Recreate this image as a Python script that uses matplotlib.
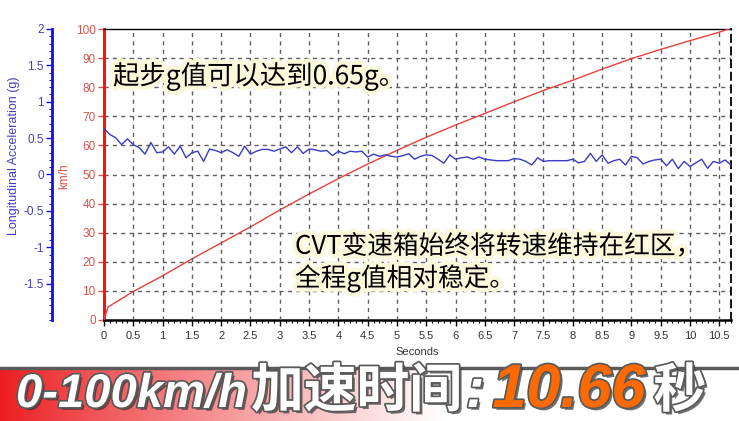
import numpy as np
import matplotlib
matplotlib.use("Agg")
import matplotlib.pyplot as plt
import matplotlib.patheffects as pe
from matplotlib.lines import Line2D
from matplotlib.ticker import MultipleLocator

# speed trace (km/h)
SPEED_T = [0, 0.07, 0.5, 1.0, 1.5, 2.0, 2.5, 3.0, 3.5, 4.0, 4.5, 5.0,
           5.5, 6.0, 6.5, 7.0, 7.5, 8.0, 8.5, 9.0, 9.5, 10.0, 10.5, 10.66]
SPEED_KMH = [0, 4.5, 9.8, 15.2, 21.0, 26.5, 32.0, 37.8, 43.3, 48.6, 53.6, 58.3,
             62.8, 67.0, 71.0, 75.0, 78.9, 82.4, 86.2, 89.8, 93.0, 96.0, 98.9, 100]

# longitudinal acceleration (g), one sample every 0.1 s from 0 to 10.7 s
ACC_DT = 0.1
ACC_G = [0.63, 0.55, 0.505, 0.41, 0.49, 0.41, 0.37, 0.28, 0.44, 0.30,
         0.31, 0.38, 0.28, 0.39, 0.23, 0.30, 0.32, 0.18, 0.35, 0.33,
         0.30, 0.34, 0.30, 0.25, 0.39, 0.28, 0.32, 0.345, 0.345, 0.32,
         0.35, 0.38, 0.30, 0.38, 0.29, 0.35, 0.34, 0.32, 0.33, 0.26,
         0.32, 0.285, 0.32, 0.31, 0.32, 0.24, 0.28, 0.25, 0.27, 0.25,
         0.24, 0.26, 0.285, 0.21, 0.25, 0.27,
         0.26, 0.21, 0.155, 0.27, 0.21, 0.23, 0.24, 0.21, 0.24, 0.21,
         0.20, 0.19, 0.19, 0.19, 0.22, 0.21, 0.18, 0.13, 0.23, 0.18,
         0.19, 0.19, 0.19, 0.19, 0.21, 0.16, 0.18, 0.29, 0.18, 0.27,
         0.155, 0.19, 0.21, 0.13, 0.25, 0.23, 0.145, 0.18, 0.20, 0.21,
         0.12, 0.21, 0.08, 0.18, 0.11, 0.16, 0.21, 0.085, 0.18, 0.155,
         0.20, 0.13]

X_TICKS = [0, 0.5, 1, 1.5, 2, 2.5, 3, 3.5, 4, 4.5, 5, 5.5, 6, 6.5, 7, 7.5,
           8, 8.5, 9, 9.5, 10, 10.5]
X_LABELS = ["0", "0.5", "1", "1.5", "2", "2.5", "3", "3.5", "4", "4.5", "5",
            "5.5", "6", "6.5", "7", "7.5", "8", "8.5", "9", "9.5", "10", "10.5"]
KMH_TICKS = [0, 10, 20, 30, 40, 50, 60, 70, 80, 90, 100]
G_TICKS = [-1.5, -1, -0.5, 0, 0.5, 1, 1.5, 2]
G_LABELS = ["-1.5", "-1", "-0.5", "0", "0.5", "1", "1.5", "2"]

NOTE_TOP = "起步g值可以达到0.65g。"
NOTE_MID = "CVT变速箱始终将转速维持在红区，\n全程g值相对稳定。"
# banner pieces: text, colour, font size, gap after (px)
BANNER_PARTS = [("0-100km/h", "white", 34, 4),
                ("加速时间", "white", 38, 4),
                (":", "white", 40, 8),
                ("10.66", "#ff6a00", 44, 8),
                ("秒", "white", 38, 0)]

W, H = 739, 421
RED = "#e8403c"
BLUE = "#3a3ac8"
GRID = "#5f5f5f"
CJK = ["Noto Sans CJK SC", "DejaVu Sans"]
LAT = ["Liberation Sans", "DejaVu Sans"]


def fx(px):
    return px / W


def fy(py):
    return 1 - py / H


fig = plt.figure(figsize=(W / 100, H / 100), dpi=100)
fig.patch.set_facecolor("white")

# main (km/h) axes
ax = fig.add_axes([fx(104), fy(320), (731 - 104) / W, (320 - 29) / H])
ax.set_xlim(0, 10.7)
ax.set_ylim(0, 100)
ax.plot(SPEED_T, SPEED_KMH, color=RED, lw=1.0, zorder=3)
ax.set_xticks(X_TICKS)
ax.set_xticklabels(X_LABELS, family=LAT, fontsize=8, color="#333333")
ax.xaxis.set_minor_locator(MultipleLocator(0.1))
ax.set_yticks(KMH_TICKS)
ax.set_yticklabels([str(v) for v in KMH_TICKS], family=LAT, fontsize=8.5,
                   color="#d9534f")
ax.tick_params(axis="x", which="major", length=4, width=1, pad=4)
ax.tick_params(axis="x", which="minor", length=2, width=0.8)
ax.tick_params(axis="y", length=4, width=1, color="#d9534f", pad=2)
ax.spines["left"].set_color("#ff1010")
ax.spines["left"].set_linewidth(2.2)
ax.spines["bottom"].set_linewidth(1.8)
ax.spines["top"].set_linewidth(1.0)
ax.spines["right"].set_linestyle((0, (4, 3)))
ax.spines["right"].set_linewidth(1.3)

# acceleration (g) axes, spine moved to the far left
ax2 = ax.twinx()
acc_t = np.arange(len(ACC_G)) * ACC_DT
ax2.plot(acc_t, ACC_G, color=BLUE, lw=1.0, zorder=2)
ax2.set_ylim(-2, 2)
ax2.yaxis.set_ticks_position("left")
ax2.yaxis.set_label_position("left")
ax2.spines["left"].set_position(("axes", -52 / 627))
ax2.spines["left"].set_visible(True)
ax2.spines["left"].set_color("#1010e0")
ax2.spines["left"].set_linewidth(2.0)
for s in ("right", "top", "bottom"):
    ax2.spines[s].set_visible(False)
ax2.set_yticks(G_TICKS)
ax2.set_yticklabels(G_LABELS, family=LAT, fontsize=8.5, color="#4040c0")
ax2.yaxis.set_minor_locator(MultipleLocator(0.1))
ax2.tick_params(axis="y", which="major", length=4, width=1, color="#1010e0", pad=2)
ax2.tick_params(axis="y", which="minor", length=2, width=0.7, color="#1010e0")

# dashed grid at the major tick positions
for xv in X_TICKS[1:]:
    ax2.axvline(xv, color=GRID, linestyle="--", dashes=(3, 3), lw=1.0, zorder=1)
for kv in KMH_TICKS[1:-1]:
    ax.axhline(kv, color=GRID, linestyle="--", dashes=(3, 3), lw=1.0, zorder=1)

fig.text(fx(14), fy(156), "Longitudinal Acceleration (g)", rotation=90,
         ha="center", va="center", fontsize=9, color="#4040c0", family=LAT)
fig.text(fx(64), fy(176), "km/h", rotation=90, ha="center", va="center",
         fontsize=8.5, color="#d9534f", family=LAT)
fig.text(fx(417), fy(352), "Seconds", ha="center", va="center",
         fontsize=8, color="#333333", family=LAT)

# annotations
glow = [pe.withStroke(linewidth=6, foreground="#fbf9dc")]
fig.text(fx(113), fy(76), NOTE_TOP, ha="left", va="center", fontsize=19,
         family=CJK, color="black", path_effects=glow)
fig.text(fx(295), fy(263), NOTE_MID, ha="left", va="center", fontsize=18.5,
         family=CJK, color="black", linespacing=1.2, path_effects=glow)

# bottom banner with red-to-white gradient
axb = fig.add_axes([0, 0, 1, (H - 369) / H])
xs = np.linspace(0, 1, 600)
frac = np.clip(xs / 0.6, 0, 1) ** 0.9
left = np.array([236, 28, 32]) / 255
grad = left[None, :] * (1 - frac[:, None]) + frac[:, None]
img = np.repeat(grad[None, :, :], 20, axis=0)
axb.imshow(img, extent=[0, 1, 0, 1], aspect="auto")
axb.set_xlim(0, 1)
axb.set_ylim(0, 1)
axb.axis("off")
fig.add_artist(Line2D([0, 1], [fy(368), fy(368)], color="#5a5a5a", lw=2.5))

renderer = fig.canvas.get_renderer()
x = 16
shadow = [pe.withSimplePatchShadow(offset=(2, -2), shadow_rgbFace="#333333", alpha=0.7),
          pe.withStroke(linewidth=2.5, foreground="#5a5a5a")]
for text, color, size, gap in BANNER_PARTS:
    t = fig.text(fx(x), fy(407), text, ha="left", va="baseline", fontsize=size,
                 color=color, family=["Liberation Sans", "Noto Sans CJK SC"],
                 weight="bold", style="italic", path_effects=shadow)
    x = t.get_window_extent(renderer).x1 + gap

fig.savefig("out.png", dpi=100)
